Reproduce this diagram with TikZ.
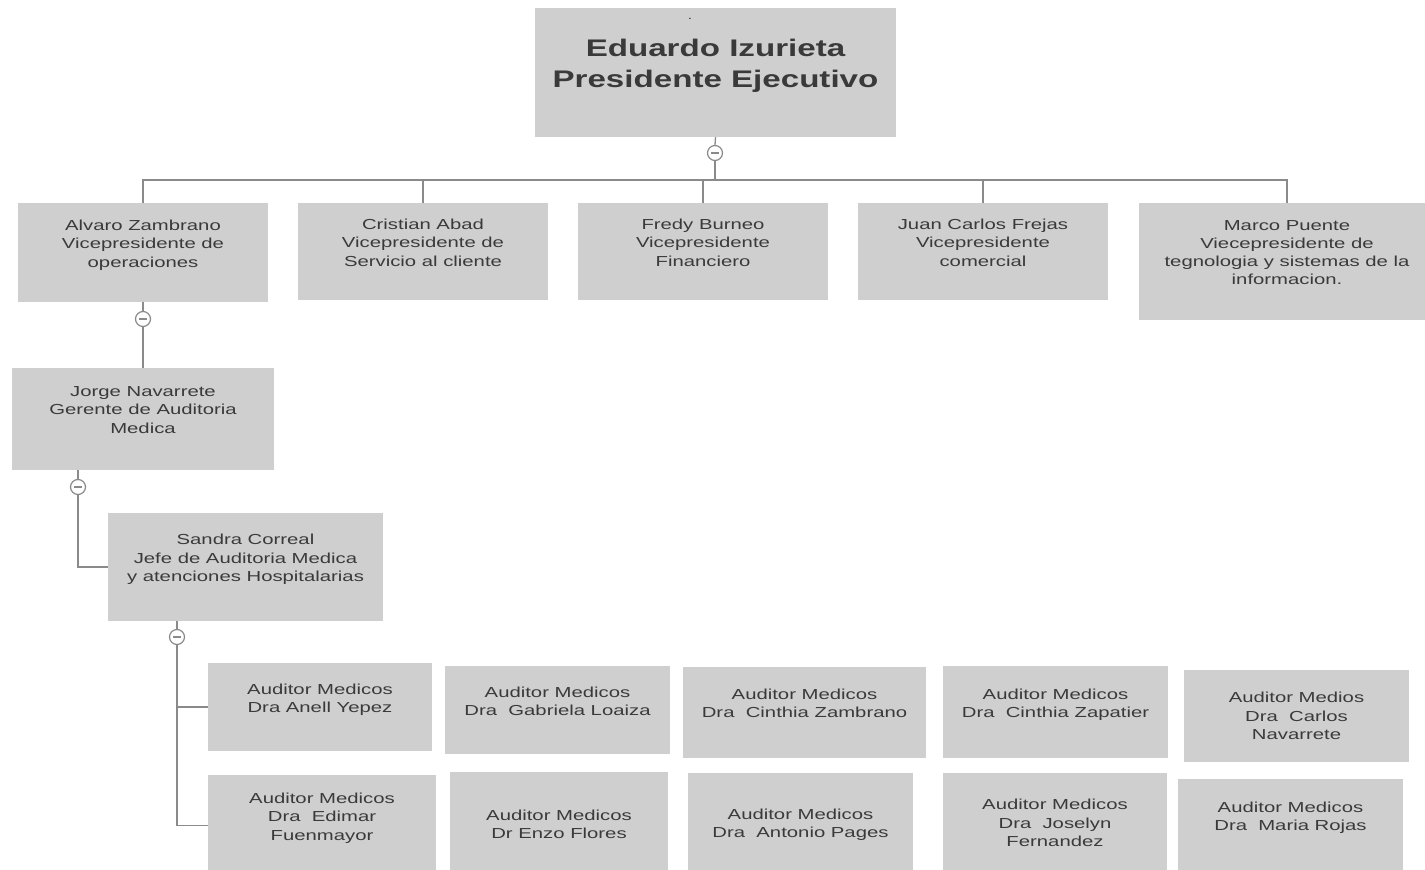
\documentclass[tikz,border=0pt]{standalone}
\usepackage{fontspec}
\setmainfont{Liberation Sans}[FakeStretch=1.4]
\newfontfamily\titulofont{Liberation Sans}[FakeStretch=1.38]
\usepackage{xcolor}
\usepackage{tikz}
\definecolor{cajagris}{HTML}{CFCFCF}
\definecolor{textogris}{HTML}{3A3A3A}
\definecolor{lineagris}{HTML}{8A8A8A}

\tikzset{
    puesto/.style={rectangle, fill=cajagris, text=textogris, align=center, inner sep=0pt, text depth=18pt, font=\fontsize{14.5}{18.3}\selectfont},
    titulo/.style={font=\titulofont\bfseries\fontsize{24}{31}\selectfont},
    plegar/.style={circle, draw=lineagris, fill=white, line width=1.2pt, minimum size=15pt, inner sep=0pt,
        path picture={\draw[lineagris, line width=1.2pt] ([xshift=-4pt]path picture bounding box.center) -- ([xshift=4pt]path picture bounding box.center);}},
    enlace/.style={lineagris, line width=1.3pt}
}

\begin{document}
\begin{tikzpicture}[x=1pt, y=-1pt]
                \clip (0, 0) rectangle (1425, 870);
                % presidencia
                \node[puesto, titulo, minimum width=361pt, minimum height=129pt] (presidente) at (715.5, 72.5) {Eduardo Izurieta\\Presidente Ejecutivo};
                \node[text=textogris, font=\fontsize{11}{11}\selectfont, inner sep=0pt] (punto) at (690, 19) {.};
                \node[plegar] (cp0) at (715, 153) {};
                \coordinate (bus) at (715, 180);
                % vicepresidencias
                \node[puesto, minimum width=250pt, minimum height=99pt] (alvaro) at (143, 252.5) {Alvaro Zambrano\\Vicepresidente de\\operaciones};
                \node[puesto, minimum width=250pt, minimum height=97pt] (cristian) at (423, 251.5) {Cristian Abad\\Vicepresidente de\\Servicio al cliente};
                \node[puesto, minimum width=250pt, minimum height=97pt] (fredy) at (703, 251.5) {Fredy Burneo\\Vicepresidente\\Financiero};
                \node[puesto, minimum width=250pt, minimum height=97pt] (juan) at (983, 251.5) {Juan Carlos Frejas\\Vicepresidente\\comercial};
                \node[puesto, minimum width=296pt, minimum height=117pt] (marco) at (1287, 261.5) {Marco Puente\\Viecepresidente de\\tegnologia y sistemas de la\\informacion.};
                \node[plegar] (cp1) at (143, 319) {};
                % gerencia y jefatura
                \node[puesto, minimum width=262pt, minimum height=102pt] (jorge) at (143, 419) {Jorge Navarrete\\Gerente de Auditoria\\Medica};
                \node[plegar] (cp2) at (78, 487) {};
                \node[puesto, minimum width=275pt, minimum height=108pt] (sandra) at (245.5, 567) {Sandra Correal\\Jefe de Auditoria Medica\\y atenciones Hospitalarias};
                \node[plegar] (cp3) at (177, 637) {};
                % auditores
                \node[puesto, minimum width=224pt, minimum height=88pt] (anell) at (320, 707) {Auditor Medicos\\Dra Anell Yepez};
                \node[puesto, minimum width=225pt, minimum height=88pt] (gabriela) at (557.5, 710) {Auditor Medicos\\Dra\ \ Gabriela Loaiza};
                \node[puesto, minimum width=243pt, minimum height=91pt] (czambrano) at (804.5, 712.5) {Auditor Medicos\\Dra\ \ Cinthia Zambrano};
                \node[puesto, minimum width=225pt, minimum height=92pt] (czapatier) at (1055.5, 712) {Auditor Medicos\\Dra\ \ Cinthia Zapatier};
                \node[puesto, minimum width=225pt, minimum height=92pt, text depth=0pt] (carlos) at (1296.5, 716) {Auditor Medios\\Dra\ \ Carlos\\Navarrete};
                \node[puesto, minimum width=228pt, minimum height=101pt] (edimar) at (322, 825.5) {Auditor Medicos\\Dra\ \ Edimar\\Fuenmayor};
                \node[puesto, minimum width=218pt, minimum height=122pt] (enzo) at (559, 833) {Auditor Medicos\\Dr Enzo Flores};
                \node[puesto, minimum width=225pt, minimum height=118pt] (antonio) at (800.5, 832) {Auditor Medicos\\Dra\ \ Antonio Pages};
                \node[puesto, minimum width=224pt, minimum height=118pt] (joselyn) at (1055, 832) {Auditor Medicos\\Dra\ \ Joselyn\\Fernandez};
                \node[puesto, minimum width=225pt, minimum height=93pt] (maria) at (1290.5, 825.5) {Auditor Medicos\\Dra\ \ Maria Rojas};
                % enlaces
                \draw[enlace] (presidente.south) -- (cp0.north);
                \draw[enlace] (cp0.south) -- (bus);
                \draw[enlace] (alvaro.north) |- (bus) -| (marco.north);
                \foreach \v in {cristian, fredy, juan}
                    \draw[enlace] (\v.north) -- (\v.north |- bus);
                \draw[enlace] (alvaro.south) -- (cp1.north);
                \draw[enlace] (cp1.south) -- (jorge.north);
                \draw[enlace] (jorge.south -| cp2) -- (cp2.north);
                \draw[enlace] (cp2.south) |- (sandra.west);
                \draw[enlace] (sandra.south -| cp3) -- (cp3.north);
                \draw[enlace] (cp3.south) |- (anell.west);
                \draw[enlace] (cp3.south) |- (edimar.west);
            \end{tikzpicture}
\end{document}
